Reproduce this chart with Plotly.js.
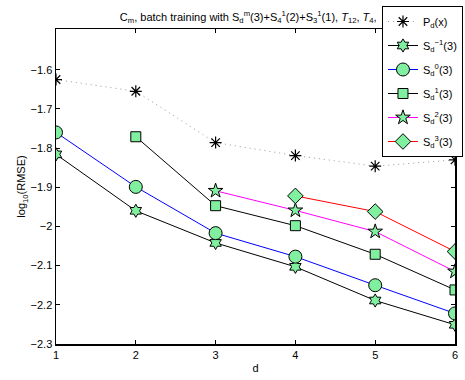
<!DOCTYPE html>
<html>
<head>
<meta charset="utf-8">
<script src="https://cdn.plot.ly/plotly-3.0.1.min.js"></script>
<style>html,body{margin:0;padding:0;background:#fff;}#chart{width:465px;height:380px;}</style>
</head>
<body>
<div id="chart"></div>
<script>
// Data
const dValues = [1, 2, 3, 4, 5, 6];
const pdX   = [-1.625, -1.655, -1.786, -1.819, -1.846, -1.830];
const sM1   = [-1.816, -1.960, -2.042, -2.103, -2.189, -2.251];
const s0    = [-1.760, -1.899, -2.017, -2.077, -2.150, -2.222];
const s1d   = [2, 3, 4, 5, 6];
const s1    = [-1.771, -1.947, -1.998, -2.071, -2.162];
const s2d   = [3, 4, 5, 6];
const s2    = [-1.909, -1.959, -2.013, -2.115];
const s3d   = [4, 5, 6];
const s3    = [-1.922, -1.962, -2.064];
const yTicks = [-2.3, -2.2, -2.1, -2, -1.9, -1.8, -1.7, -1.6];
const yTickText = ['\u22122.3', '\u22122.2', '\u22122.1', '\u22122', '\u22121.9', '\u22121.8', '\u22121.7', '\u22121.6'];
const names = ['P<sub>d</sub>(x)', 'S<sub>d</sub><sup>\u22121</sup>(3)', 'S<sub>d</sub><sup>0</sup>(3)',
               'S<sub>d</sub><sup>1</sup>(3)', 'S<sub>d</sub><sup>2</sup>(3)', 'S<sub>d</sub><sup>3</sup>(3)'];

const green = 'rgb(128,240,160)';
const mk = (sym, size) => ({symbol: sym, size: size, color: green, line: {color: '#000', width: 1}});

const traces = [
  {x: dValues, y: pdX, name: names[0], legendgroup: 'g0', mode: 'lines+markers',
   line: {color: '#999', width: 1, dash: '1px,4px'},
   marker: {symbol: 'asterisk-open', size: 10, color: '#000', line: {color: '#000', width: 1.2}}},
  {x: dValues, y: sM1, name: names[1], legendgroup: 'g1', mode: 'lines+markers',
   line: {color: '#000', width: 1}, marker: mk('hexagram', 10)},
  {x: dValues, y: s0, name: names[2], legendgroup: 'g2', mode: 'lines+markers',
   line: {color: '#0000ff', width: 1}, marker: mk('circle', 13)},
  {x: s1d, y: s1, name: names[3], legendgroup: 'g3', mode: 'lines+markers',
   line: {color: '#000', width: 1}, marker: mk('square', 10)},
  {x: s2d, y: s2, name: names[4], legendgroup: 'g4', mode: 'lines+markers',
   line: {color: '#ff00ff', width: 1}, marker: mk('star', 11)},
  {x: s3d, y: s3, name: names[5], legendgroup: 'g5', mode: 'lines+markers',
   line: {color: '#ff0000', width: 1}, marker: mk('diamond', 12)}
];

const axisCommon = {
  showline: true, mirror: 'ticks', linecolor: '#000', linewidth: 1.5,
  ticks: 'inside', ticklen: 4, tickcolor: '#000', tickwidth: 1,
  showgrid: false, zeroline: false,
  tickfont: {family: 'Liberation Sans, Arial, sans-serif', size: 11, color: '#000'}
};

const layout = {
  width: 465, height: 380,
  margin: {l: 56, r: 10, t: 29, b: 36, autoexpand: false},
  paper_bgcolor: '#fff', plot_bgcolor: '#fff',
  font: {family: 'Liberation Sans, Arial, sans-serif', size: 11, color: '#000'},
  title: {
    text: 'C<sub>m</sub>, batch training with S<sub>d</sub><sup>m</sup>(3)+S<sub>4</sub><sup>1</sup>(2)+S<sub>3</sub><sup>1</sup>(1), <i>T</i><sub>12</sub>, <i>T</i><sub>4</sub>,',
    font: {family: 'Liberation Sans, Arial, sans-serif', size: 11, color: '#000'},
    xref: 'paper', x: 0.16, xanchor: 'left',
    yref: 'container', y: 0.955, yanchor: 'middle'
  },
  xaxis: Object.assign({}, axisCommon, {
    range: [1, 6], tickvals: dValues, ticktext: dValues.map(String),
    title: {text: 'd', font: {size: 11}, standoff: 4}
  }),
  yaxis: Object.assign({}, axisCommon, {
    range: [-2.3, -1.496], tickvals: yTicks, ticktext: yTickText,
    title: {text: 'log<sub>10</sub>(RMSE)', font: {size: 11}, standoff: 2}
  }),
  showlegend: true,
  legend: {
    x: 1.02, xanchor: 'right', y: 1.073, yanchor: 'top',
    bgcolor: '#fff', bordercolor: '#000', borderwidth: 1,
    font: {family: 'Liberation Sans, Arial, sans-serif', size: 11, color: '#000'},
    tracegroupgap: 5, itemwidth: 30
  }
};

Plotly.newPlot('chart', traces, layout, {displayModeBar: false, staticPlot: true});
</script>
</body>
</html>
